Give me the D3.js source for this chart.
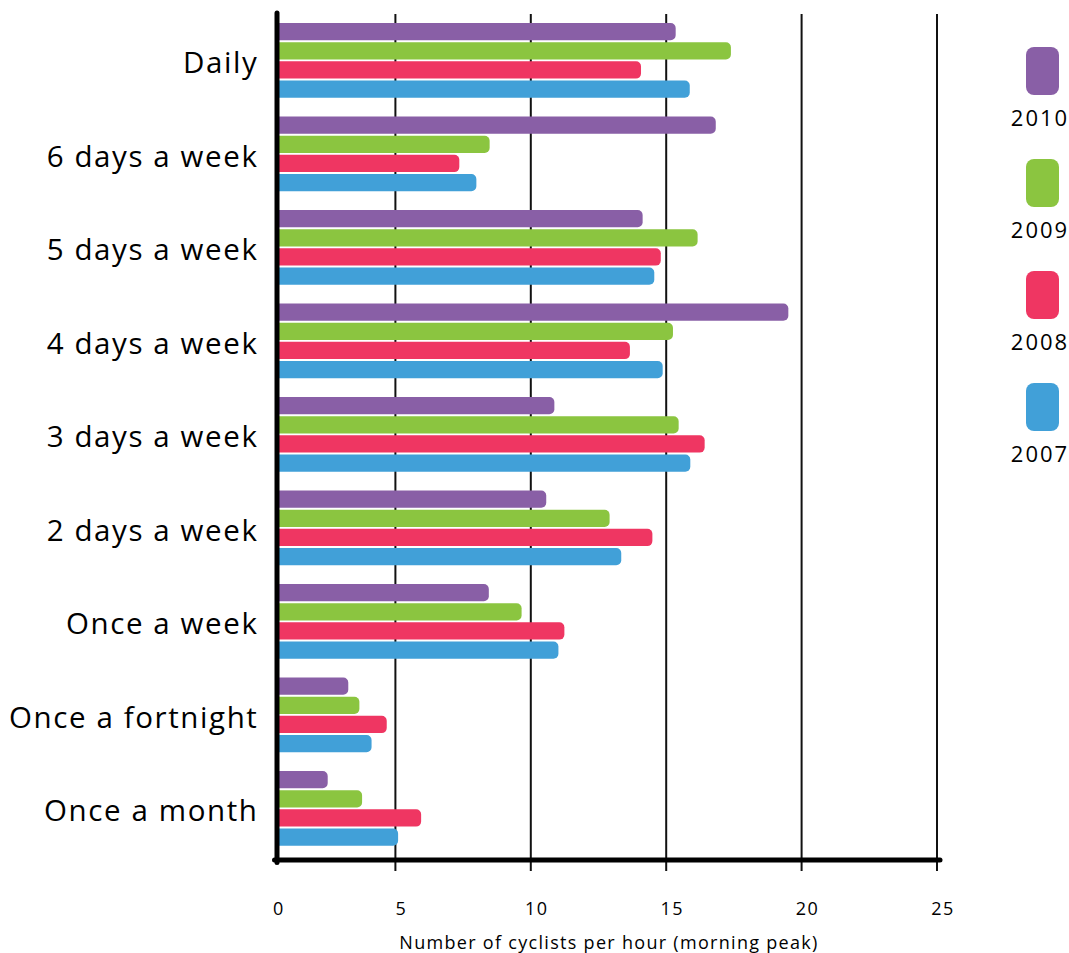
<!DOCTYPE html>
<html>
<head>
<meta charset="utf-8">
<script src="https://cdn.jsdelivr.net/npm/d3@7"></script>
<style>
  body { margin: 0; background: #fff; }
  svg { display: block; font-family: "Open Sans", sans-serif; font-weight: 500; }
</style>
</head>
<body>
<div id="chart"></div>
<script>
// categories, top to bottom
const categories = ["Daily", "6 days a week", "5 days a week", "4 days a week", "3 days a week",
                    "2 days a week", "Once a week", "Once a fortnight", "Once a month"];
const series = ["2010", "2009", "2008", "2007"];
const colors = ["#895FA6", "#8BC540", "#EF3662", "#41A0D8"];

// values, one per category
const v2010 = [15.35, 16.83, 14.13, 19.51, 10.87, 10.57, 8.45, 3.26, 2.50];
const v2009 = [17.39, 8.48, 16.16, 15.25, 15.46, 12.91, 9.66, 3.67, 3.77];
const v2008 = [14.07, 7.36, 14.80, 13.66, 16.42, 14.49, 11.24, 4.68, 5.95];
const v2007 = [15.87, 7.99, 14.56, 14.87, 15.89, 13.34, 11.02, 4.12, 5.10];
const tickValues = [0, 5, 10, 15, 20, 25];
const xTitle = "Number of cyclists per hour (morning peak)";

const valuesBySeries = { "2010": v2010, "2009": v2009, "2008": v2008, "2007": v2007 };
const rows = [];
categories.forEach(function (c, i) {
    series.forEach(function (s) {
        rows.push({ cat: c, year: s, value: valuesBySeries[s][i] });
    });
});

const width = 1069, height = 953;
const plotLeft = 277, plotTop = 13, plotBottom = 860;

const svg = d3.select("#chart").append("svg")
    .attr("width", width)
    .attr("height", height);

const x = d3.scaleLinear().domain([0, 25]).range([260, 937]);
const y = d3.scaleBand().domain(categories).range([13.65, 855.15])
    .paddingInner(0.2).paddingOuter(0.1);
const yInner = d3.scaleBand().domain(series).range([0, y.bandwidth()]).paddingInner(0.1);
const color = d3.scaleOrdinal().domain(series).range(colors);

// gridlines
svg.append("g")
    .selectAll("line")
    .data(tickValues.filter(function (d) { return d > 0; }))
    .enter()
    .append("line")
    .attr("x1", function (d) { return x(d); })
    .attr("x2", function (d) { return x(d); })
    .attr("y1", 14)
    .attr("y2", 871)
    .attr("stroke", "#111")
    .attr("stroke-width", 2);

// bars: flat left end, rounded right end
function barPath(x0, x1, yTop, h, r) {
    const w = x1 - x0;
    r = Math.min(r, w, h / 2);
    return "M" + x0 + "," + yTop +
        "h" + (w - r) +
        "a" + r + "," + r + " 0 0 1 " + r + "," + r +
        "v" + (h - 2 * r) +
        "a" + r + "," + r + " 0 0 1 " + (-r) + "," + r +
        "h" + (-(w - r)) + "Z";
}

svg.append("g")
    .selectAll("path")
    .data(rows)
    .enter()
    .append("path")
    .attr("d", function (d) {
        return barPath(plotLeft, x(d.value), y(d.cat) + yInner(d.year), yInner.bandwidth(), 5);
    })
    .attr("fill", function (d) { return color(d.year); });

// axes lines
svg.append("line")
    .attr("x1", plotLeft).attr("x2", plotLeft)
    .attr("y1", plotTop).attr("y2", plotBottom + 2.5)
    .attr("stroke", "#000").attr("stroke-width", 5)
    .attr("stroke-linecap", "round");
svg.append("line")
    .attr("x1", plotLeft - 2.5).attr("x2", 940)
    .attr("y1", plotBottom).attr("y2", plotBottom)
    .attr("stroke", "#000").attr("stroke-width", 5)
    .attr("stroke-linecap", "round");

// category labels
svg.append("g")
    .selectAll("text")
    .data(categories)
    .enter()
    .append("text")
    .attr("x", 258.5)
    .attr("y", function (d) { return y(d) + y.bandwidth() / 2 + 13; })
    .attr("text-anchor", "end")
    .attr("font-size", 29.5)
    .attr("letter-spacing", 1.6)
    .attr("fill", "#000")
    .text(function (d) { return d; });

// tick labels
svg.append("g")
    .selectAll("text")
    .data(tickValues)
    .enter()
    .append("text")
    .attr("x", function (d) { return d === 0 ? plotLeft + 2 : x(d) + 6; })
    .attr("y", 915)
    .attr("text-anchor", "middle")
    .attr("font-size", 18)
    .attr("letter-spacing", 1.5)
    .attr("fill", "#000")
    .text(function (d) { return d; });

svg.append("text")
    .attr("x", 609)
    .attr("y", 949)
    .attr("text-anchor", "middle")
    .attr("font-size", 18)
    .attr("letter-spacing", 1.3)
    .attr("fill", "#000")
    .text(xTitle);

// legend
const ly = d3.scalePoint().domain(series).range([47, 47 + 3 * 112]);
const legend = svg.append("g")
    .selectAll("g")
    .data(series)
    .enter()
    .append("g")
    .attr("transform", function (d) { return "translate(1026," + ly(d) + ")"; });
legend.append("rect")
    .attr("width", 33)
    .attr("height", 48)
    .attr("rx", 8)
    .attr("fill", function (d) { return color(d); });
legend.append("text")
    .attr("x", 14)
    .attr("y", 79)
    .attr("text-anchor", "middle")
    .attr("font-size", 22)
    .attr("letter-spacing", 2)
    .attr("fill", "#000")
    .text(function (d) { return d; });
</script>
</body>
</html>
